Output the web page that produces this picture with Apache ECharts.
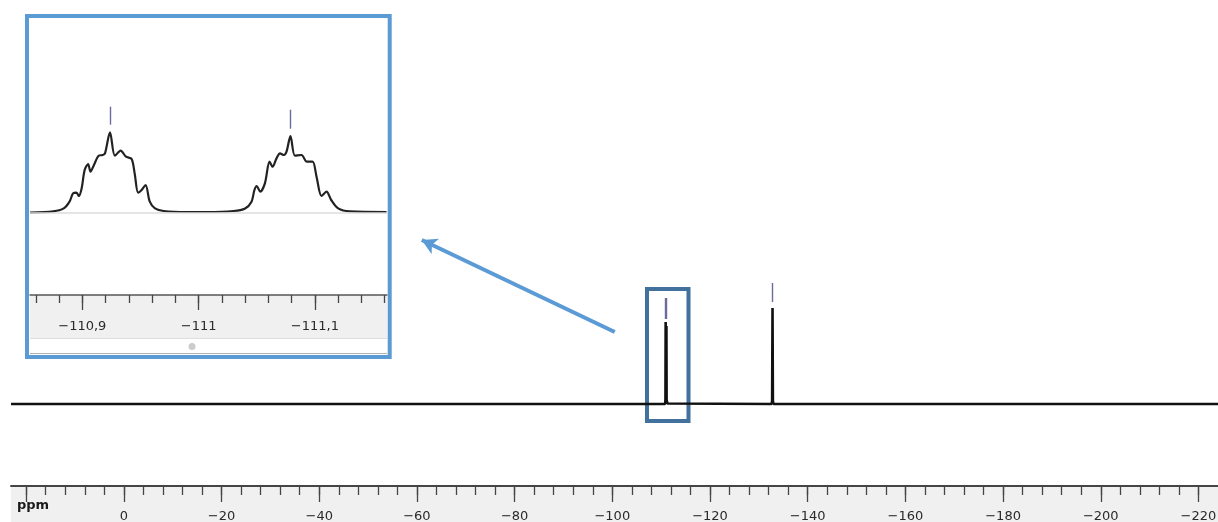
<!DOCTYPE html>
<html>
<head>
<meta charset="utf-8">
<script src="https://cdn.jsdelivr.net/npm/echarts@6/dist/echarts.min.js"></script>
<style>
html,body{margin:0;padding:0;background:#fff;}
#chart{width:1218px;height:522px;}
</style>
</head>
<body>
<div id="chart"></div>
<script>
// ---------- DATA ----------
// main spectrum: [ppm, intensity]
const mainSpectrum = [
  [23.1, 0], [-60, 0], [-110.80, 0], [-110.88, 4], [-110.924, 82], [-110.96, 30],
  [-111.00, 2], [-111.079, 78], [-111.12, 4], [-111.3, 0.5], [-111.6, 0],
  [-132.6, 0], [-132.72, 3], [-132.8, 96], [-132.88, 3], [-133.0, 0], [-224, 0]
];
// peak picking markers in the main view: [ppm, low, high]
const mainPeakMarkers = [
  [-110.924, 85, 106],
  [-111.079, 85, 106],
  [-132.8, 102, 121]
];
// zoom box around the first multiplet: [ppmFrom, ppmTo, intensityLow, intensityHigh]
const zoomBox = [-107.1, -115.6, -17, 115];
// arrow from zoom box to inset: [ppmFrom, intFrom, ppmTo, intTo]
const arrowPath = [-100.5, 72, -61.0, 164];

const mainTickValues = [20, 0, -20, -40, -60, -80, -100, -120, -140, -160, -180, -200, -220];
const mainTickLabels = ['', '0', '−20', '−40', '−60', '−80', '−100', '−120', '−140', '−160', '−180', '−200', '−220'];
const mainMinorTicks = [20, 16, 12, 8, 4, 0, -4, -8, -12, -16, -20, -24, -28, -32, -36, -40, -44, -48, -52, -56,
  -60, -64, -68, -72, -76, -80, -84, -88, -92, -96, -100, -104, -108, -112, -116, -120, -124, -128, -132, -136,
  -140, -144, -148, -152, -156, -160, -164, -168, -172, -176, -180, -184, -188, -192, -196, -200, -204, -208,
  -212, -216, -220];

// inset (zoomed) spectrum: [ppm, intensity]
const insetSpectrum = [
  [-110.855, 0], [-110.875, 1.3], [-110.884, 4.3], [-110.889, 11], [-110.892, 19.3], [-110.895, 20],
  [-110.897, 16.7], [-110.8994, 24.3], [-110.902, 42.7], [-110.905, 48.7], [-110.907, 41], [-110.910, 47.7],
  [-110.914, 57], [-110.9175, 57.7], [-110.9195, 59.3], [-110.9238, 80.3], [-110.928, 57], [-110.933, 62],
  [-110.9375, 56], [-110.9424, 53.7], [-110.945, 39.3], [-110.948, 20], [-110.951, 22.7], [-110.9544, 27.7],
  [-110.958, 11], [-110.9625, 4.3], [-110.970, 1.7], [-110.990, 0.7], [-111.007, 0.7], [-111.030, 1.7],
  [-111.040, 4.3], [-111.0455, 11], [-111.048, 22.7], [-111.050, 26.7], [-111.053, 21], [-111.057, 29.3],
  [-111.061, 51], [-111.0636, 46], [-111.067, 54.3], [-111.070, 59.3], [-111.0733, 57.7], [-111.0756, 61],
  [-111.079, 76.7], [-111.0828, 57], [-111.0885, 57.7], [-111.093, 51], [-111.098, 51], [-111.1014, 36],
  [-111.1057, 16.7], [-111.110, 21], [-111.114, 12.7], [-111.120, 4.3], [-111.130, 1.3], [-111.1616, 0.7]
];
const insetPeakMarkers = [
  [-110.9238, 88, 106],
  [-111.079, 84, 103]
];
const insetTickValues = [-110.9, -111, -111.1];
const insetTickLabels = ['−110,9', '−111', '−111,1'];
const insetMinorTicks = [-110.86, -110.88, -110.9, -110.92, -110.94, -110.96, -110.98, -111, -111.02, -111.04,
  -111.06, -111.08, -111.1, -111.12, -111.14, -111.16];

// ---------- CHART ----------
const chart = echarts.init(document.getElementById('chart'), null, {renderer: 'canvas'});
const FONT = 'DejaVu Sans';
const lookup = (vals, labels) => v => {
  const i = vals.findIndex(t => Math.abs(t - v) < 1e-6);
  return i >= 0 ? labels[i] : '';
};
const fmtMain = lookup(mainTickValues, mainTickLabels);
const fmtInset = lookup(insetTickValues, insetTickLabels);

const markerColor = '#6c6c9c';
const tickStyle = {color: '#454545', width: 1.3};

const option = {
  animation: false,
  backgroundColor: '#ffffff',
  grid: [
    {left: 11, right: 0, top: 200, bottom: 36, outerBoundsMode: 'none', containLabel: false},
    {left: 30, width: 357, top: 18, height: 277, outerBoundsMode: 'none', containLabel: false}
  ],
  xAxis: [
    {
      gridIndex: 0, type: 'value', min: -224, max: 23.1, inverse: true, position: 'bottom',
      splitLine: {show: false},
      axisLine: {show: true, onZero: false, lineStyle: {color: '#454545', width: 2}},
      axisTick: {show: true, customValues: mainTickValues, length: 16, lineStyle: tickStyle},
      axisLabel: {show: true, customValues: mainTickValues, formatter: fmtMain, margin: 24,
        fontSize: 13, color: '#2a2a2a', fontFamily: FONT, hideOverlap: false}
    },
    {
      gridIndex: 0, type: 'value', min: -224, max: 23.1, inverse: true, position: 'bottom', offset: 0,
      splitLine: {show: false},
      axisLine: {show: false, onZero: false},
      axisTick: {show: true, customValues: mainMinorTicks, length: 9, lineStyle: tickStyle},
      axisLabel: {show: false}
    },
    {
      gridIndex: 1, type: 'value', min: -111.162, max: -110.855, inverse: true, position: 'bottom',
      splitLine: {show: false},
      axisLine: {show: true, onZero: false, lineStyle: {color: '#555', width: 1.5}},
      axisTick: {show: true, customValues: insetTickValues, length: 15, lineStyle: tickStyle},
      axisLabel: {show: true, customValues: insetTickValues, formatter: fmtInset, margin: 25,
        fontSize: 13, color: '#2a2a2a', fontFamily: FONT, hideOverlap: false}
    },
    {
      gridIndex: 1, type: 'value', min: -111.162, max: -110.855, inverse: true, position: 'bottom', offset: 0,
      splitLine: {show: false},
      axisLine: {show: false, onZero: false},
      axisTick: {show: true, customValues: insetMinorTicks, length: 8, lineStyle: tickStyle},
      axisLabel: {show: false}
    }
  ],
  yAxis: [
    {gridIndex: 0, type: 'value', min: -82, max: 204, show: false},
    {gridIndex: 1, type: 'value', min: -82.3, max: 194.7, show: false}
  ],
  graphic: [
    {type: 'rect', z: -5, silent: true, shape: {x: 11, y: 486, width: 1207, height: 36}, style: {fill: '#f0f0f0'}},
    {type: 'rect', z: -5, silent: true, shape: {x: 30, y: 295, width: 357, height: 43}, style: {fill: '#f0f0f0'}},
    {type: 'line', z: 5, silent: true, shape: {x1: 30, y1: 338.5, x2: 387, y2: 338.5}, style: {stroke: '#dddddd', lineWidth: 1}},
    {type: 'line', z: 5, silent: true, shape: {x1: 30, y1: 353.5, x2: 387, y2: 353.5}, style: {stroke: '#b0b0b0', lineWidth: 1}},
    {type: 'circle', z: 5, silent: true, shape: {cx: 192, cy: 346.5, r: 3.5}, style: {fill: '#cccccc'}},
    {type: 'rect', z: 20, silent: true, shape: {x: 27, y: 16, width: 362.7, height: 341},
      style: {fill: 'none', stroke: '#5b9bd5', lineWidth: 4}},
    {type: 'text', z: 20, silent: true, x: 17, y: 499.5,
      style: {text: 'ppm', fill: '#1a1a1a', font: 'bold 13px "DejaVu Sans"'}}
  ],
  series: [
    {
      type: 'line', xAxisIndex: 0, yAxisIndex: 0, data: mainSpectrum, symbol: 'none',
      lineStyle: {color: '#111', width: 2.6}, z: 3,
      markLine: {
        silent: true, symbol: 'none', animation: false,
        label: {show: false},
        lineStyle: {color: markerColor, width: 1.4, type: 'solid'},
        data: mainPeakMarkers.map(m => [{coord: [m[0], m[1]]}, {coord: [m[0], m[2]]}])
      },
      markArea: {
        silent: true,
        itemStyle: {color: 'rgba(0,0,0,0)', borderColor: '#41719c', borderWidth: 4},
        data: [[{coord: [zoomBox[0], zoomBox[3]]}, {coord: [zoomBox[1], zoomBox[2]]}]]
      }
    },
    {
      type: 'line', xAxisIndex: 1, yAxisIndex: 0, data: [], symbol: 'none',
      markLine: {
        silent: true, symbol: ['none', 'arrow'], symbolSize: [13, 15], animation: false,
        label: {show: false},
        lineStyle: {color: '#5b9bd5', width: 4, type: 'solid'},
        data: [[{coord: [arrowPath[0], arrowPath[1]]}, {coord: [arrowPath[2], arrowPath[3]]}]]
      }
    },
    {
      type: 'line', xAxisIndex: 2, yAxisIndex: 1, data: insetSpectrum, symbol: 'none', smooth: 0.3,
      lineStyle: {color: '#222', width: 2.2}, z: 3,
      markLine: {
        silent: true, symbol: 'none', animation: false,
        label: {show: false},
        data: [
          [{coord: [-110.855, 0], lineStyle: {color: '#dcdcdc', width: 1.5, type: 'solid'}},
           {coord: [-111.162, 0]}],
          ...insetPeakMarkers.map(m => [
            {coord: [m[0], m[1]], lineStyle: {color: markerColor, width: 1.4, type: 'solid'}},
            {coord: [m[0], m[2]]}])
        ]
      }
    }
  ]
};
chart.setOption(option);
</script>
</body>
</html>
